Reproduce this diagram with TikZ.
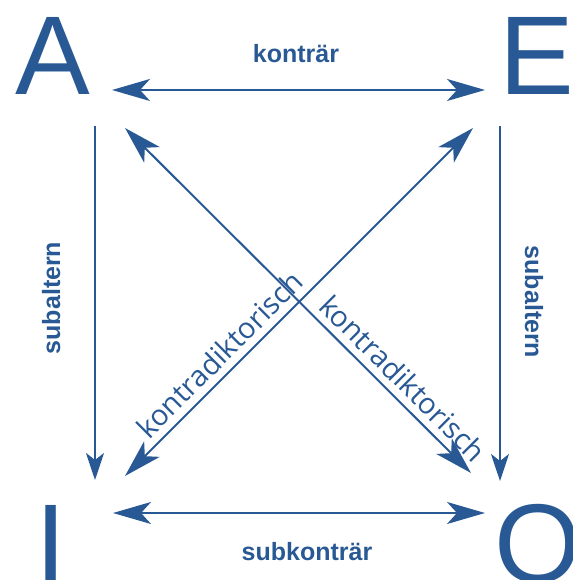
\documentclass[tikz,border=0pt]{standalone}
\usepackage{fontspec}
\setmainfont{Liberation Sans}
\newfontfamily\kfont{Open Sans}
\usetikzlibrary{arrows.meta}
\definecolor{sqblue}{RGB}{41,89,148}
\tikzset{
	corner/.style = {inner sep = 0pt, anchor = base west, text = sqblue,
		font = \fontsize{112}{112}\selectfont},
	rel/.style = {inner sep = 0pt, anchor = base, text = sqblue,
		font = \bfseries\fontsize{25}{25}\selectfont},
	diag/.style = {inner sep = 7pt, sloped, above, text = sqblue,
		font = \kfont\fontsize{29}{29}\selectfont},
	both/.style = {draw = sqblue, line width = 2pt,
		{Stealth[length = 38pt, width = 22pt, inset = 10pt]}-{Stealth[length = 38pt, width = 22pt, inset = 10pt]}},
	down/.style = {draw = sqblue, line width = 2pt,
		-{Stealth[length = 27pt, width = 18pt, inset = 7pt]}}
}
\begin{document}
\begin{tikzpicture}[x = 1pt, y = 1pt]
	\useasboundingbox (0, 0) rectangle (572, 580);
	% corners
	\node [corner] (A) at (15, 485) {A};
	\node [corner] (E) at (499, 485) {E};
	\node [corner] (I) at (35.5, -2) {I};
	\node [corner] (O) at (494.6, -2) {O};
	% arrow ends
	\coordinate (ae1) at (112, 490);
	\coordinate (ae2) at (485, 490);
	\coordinate (io1) at (113, 67);
	\coordinate (io2) at (485, 67);
	\coordinate (ai1) at (95, 454);
	\coordinate (ai2) at (95, 100);
	\coordinate (eo1) at (500, 454);
	\coordinate (eo2) at (500, 99);
	\coordinate (ao1) at (125, 452);
	\coordinate (ao2) at (471, 107);
	\coordinate (ie1) at (125, 104);
	\coordinate (ie2) at (473, 452);
	% konträr, subkonträr
	\draw [both] (ae1) -- (ae2);
	\node [rel] (kontr) at (296, 517) {konträr};
	\draw [both] (io1) -- (io2);
	\node [rel] (subkontr) at (307, 19) {subkonträr};
	% subaltern
	\draw [down] (ai1) -- (ai2);
	\node [rel, rotate = 90] (subl) at (60, 282) {subaltern};
	\draw [down] (eo1) -- (eo2);
	\node [rel, rotate = -90] (subr) at (525, 278) {subaltern};
	% kontradiktorisch
	\draw [both] (ao1) -- node [diag, pos = 0.765] (kdr) {kontradiktorisch} (ao2);
	\draw [both] (ie1) -- node [diag, pos = 0.31] (kdl) {kontradiktorisch} (ie2);
\end{tikzpicture}
\end{document}
